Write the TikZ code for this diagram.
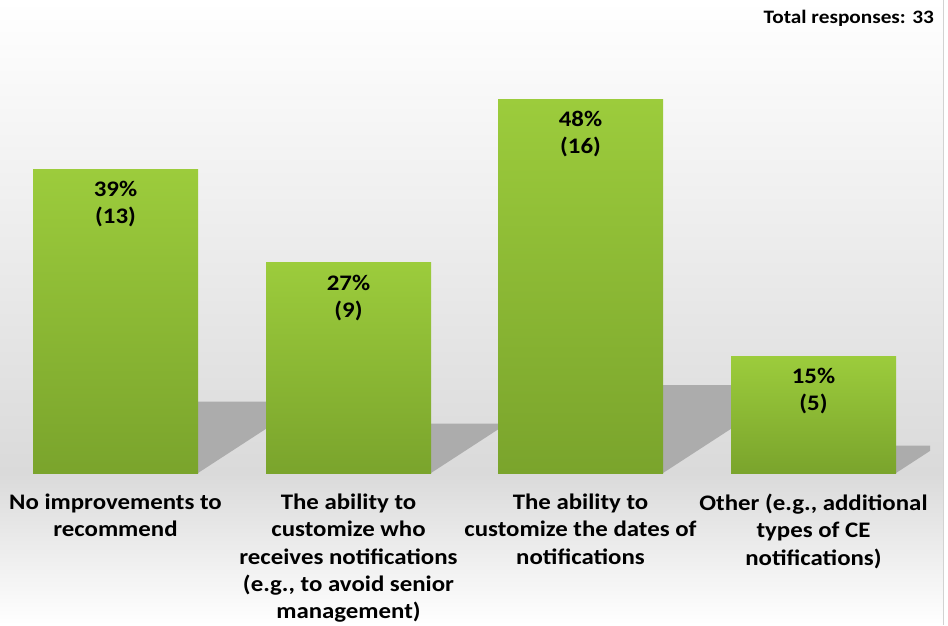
\documentclass[tikz,border=0pt]{standalone}
\usepackage{fontspec}
\setmainfont{Carlito}[FakeStretch=1.12]
\definecolor{bartop}{RGB}{156,204,60}
\definecolor{barbot}{RGB}{122,164,44}
\definecolor{bgmid}{RGB}{218,218,218}
\definecolor{ombre}{RGB}{172,172,172}

\begin{document}
\begin{tikzpicture}[x=1pt, y=-1pt]
\tikzset{barre/.style={top color=bartop, bottom color=barbot}}
\tikzset{valeur/.style={font=\bfseries\fontsize{22.2}{27.2}\selectfont, align=center, inner sep=0pt, anchor=north}}
\useasboundingbox (0,0) rectangle (948,625);
% fond
\fill[top color=white, bottom color=bgmid] (0,0) rectangle (943,473);
\fill[top color=bgmid, bottom color=white] (0,473) rectangle (943,625);
\draw[gray!35, line width=1.5pt] (943.5,0) -- (943.5,625);
% ombres
\begin{scope}
\clip (0,0) rectangle (930,473);
\foreach \x/\p in {33/39, 266/27, 498/48, 731/15}
  \fill[ombre] (\x+165,473) -- ({\x+165+0.235*7.79*\p/0.65},{473-0.235*7.79*\p})
    -- ({\x+0.235*7.79*\p/0.65},{473-0.235*7.79*\p}) -- (\x,473) -- cycle;
\end{scope}
% barres
\foreach \x/\p/\n [count=\i] in {33/39/13, 266/27/9, 498/48/16, 731/15/5} {
  \fill[barre] (\x,473) rectangle (\x+165,{473-7.79*\p});
  \node[valeur] (V\i) at (\x+82.5,{473-7.79*\p+12}) {\p\%\\(\n)};
}
% categories
\node[valeur] (C1) at (115.5,494) {No improvements to\\recommend};
\node[valeur] (C2) at (348.5,494) {The ability to\\customize who\\receives notifications\\(e.g., to avoid senior\\management)};
\node[valeur] (C3) at (580.5,494) {The ability to\\customize the dates of\\notifications};
\node[valeur] (C4) at (813.5,494) {Other (e.g., additional\\types of CE\\notifications)};
\node[anchor=base east, inner sep=0pt, font=\bfseries\fontsize{19}{22}\selectfont] (total) at (934,23.5) {Total responses: 33};
\end{tikzpicture}
\end{document}
